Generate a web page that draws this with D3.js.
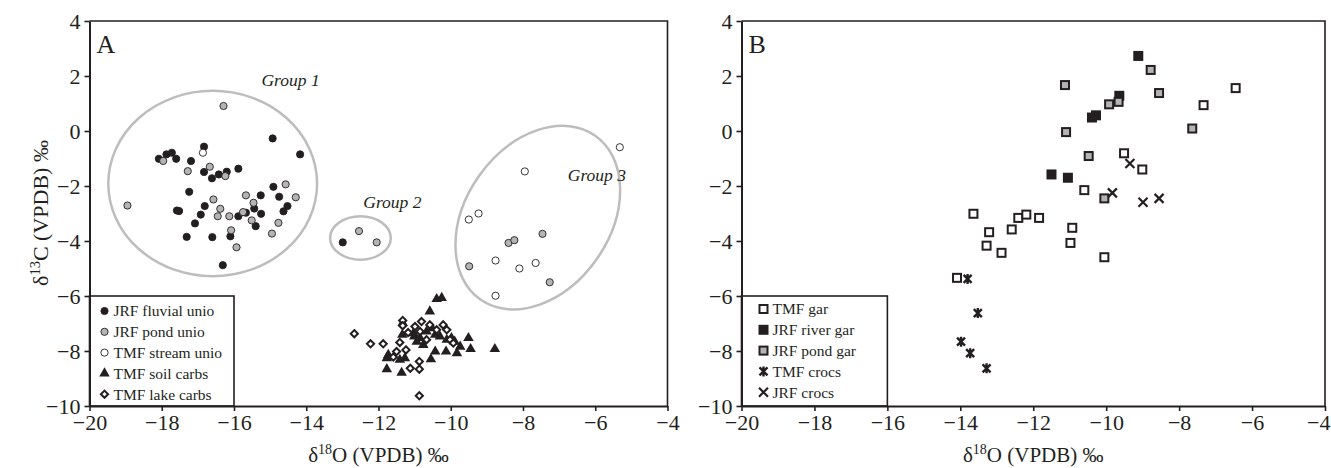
<!DOCTYPE html>
<html>
<head>
<meta charset="utf-8">
<script src="https://cdn.jsdelivr.net/npm/d3@7"></script>
<style>
  body { margin: 0; background: #fff; }
  svg { display: block; font-family: "Liberation Serif", "Times New Roman", serif; }
</style>
</head>
<body>
<svg id="fig" width="1331" height="468"></svg>
<script>
// ---- panel A : unionids and carbonates (d18O, d13C) ----
const jrfFluvialUnio = [[-18.08,-1.01],[-17.87,-0.85],[-17.72,-0.79],[-17.60,-1.01],[-17.19,-1.09],[-16.83,-0.57],
  [-16.83,-1.49],[-16.61,-1.72],[-16.42,-1.58],[-16.20,-1.48],[-15.88,-1.37],[-14.93,-0.27],[-14.17,-0.85],
  [-17.24,-2.21],[-17.58,-2.89],[-17.52,-2.91],[-16.81,-2.73],[-16.92,-3.04],[-17.08,-3.36],[-17.31,-3.85],
  [-16.60,-3.86],[-16.10,-3.83],[-15.88,-3.10],[-15.67,-2.97],[-15.44,-2.82],[-15.25,-3.01],[-15.40,-3.46],
  [-15.26,-2.34],[-14.91,-2.03],[-14.75,-2.39],[-14.52,-2.73],[-14.63,-2.92],[-16.31,-4.88],[-12.99,-4.05]];
const jrfPondUnio = [[-16.29,0.91],[-18.95,-2.71],[-17.96,-1.09],[-17.28,-1.46],[-16.67,-1.30],[-16.24,-1.64],
  [-14.57,-1.94],[-14.29,-2.41],[-14.77,-3.34],[-14.95,-3.73],[-15.67,-2.34],[-15.46,-2.61],[-16.57,-2.49],
  [-16.38,-2.83],[-16.45,-3.10],[-16.13,-3.10],[-15.75,-2.95],[-15.51,-3.25],[-16.08,-3.61],[-15.93,-4.23],
  [-12.54,-3.64],[-12.05,-4.05],[-8.40,-4.07],[-8.24,-3.97],[-7.46,-3.74],[-9.49,-4.92],[-7.26,-5.50]];
const tmfStreamUnio = [[-16.86,-0.79],[-9.50,-3.22],[-9.23,-3.00],[-8.76,-4.71],[-8.10,-5.00],[-7.65,-4.80],
  [-8.76,-5.99],[-7.95,-1.47],[-5.32,-0.59]];
const tmfSoilCarbs = [[-10.39,-6.11],[-10.25,-6.07],[-10.58,-6.56],[-11.33,-6.98],[-11.34,-7.41],[-11.01,-7.47],
  [-10.85,-7.53],[-10.67,-7.29],[-10.52,-7.17],[-10.43,-7.41],[-10.30,-7.47],[-10.11,-7.59],[-9.98,-7.53],
  [-9.89,-7.66],[-9.51,-7.53],[-9.74,-7.84],[-9.83,-8.08],[-9.45,-7.93],[-8.78,-7.93],[-10.13,-8.02],
  [-10.43,-8.02],[-10.55,-8.30],[-11.27,-8.26],[-11.41,-8.32],[-11.77,-8.26],[-11.77,-8.66],[-11.36,-8.79],
  [-11.73,-8.14],[-10.94,-7.66],[-10.76,-7.78],[-11.03,-7.35]];
const tmfLakeCarbs = [[-12.67,-7.37],[-12.22,-7.74],[-11.87,-7.74],[-11.33,-6.89],[-11.33,-7.08],[-11.41,-7.69],
  [-11.50,-8.02],[-11.24,-7.96],[-11.59,-8.22],[-11.12,-8.63],[-10.87,-8.38],[-10.87,-8.66],[-10.99,-7.11],
  [-10.81,-6.93],[-10.85,-7.29],[-10.58,-7.05],[-10.21,-7.05],[-10.11,-7.23],[-10.39,-7.23],[-10.67,-7.59],
  [-10.02,-7.59],[-10.87,-9.63],[-9.93,-7.71],[-11.18,-7.33]];

// ---- panel B : gar scales and crocodile teeth ----
const tmfGar = [[-10.60,-2.15],[-13.64,-3.01],[-12.41,-3.16],[-12.19,-3.04],[-11.84,-3.16],[-12.59,-3.58],
  [-13.21,-3.68],[-13.28,-4.17],[-12.87,-4.43],[-10.93,-3.52],[-10.98,-4.07],[-10.05,-4.59],[-14.09,-5.34],
  [-9.51,-0.81],[-9.01,-1.40],[-7.33,0.94],[-6.45,1.56]];
const jrfRiverGar = [[-9.12,2.73],[-9.64,1.28],[-10.28,0.57],[-10.39,0.49],[-11.50,-1.58],[-11.05,-1.70]];
const jrfPondGar = [[-11.13,1.67],[-9.66,1.06],[-9.92,0.97],[-11.10,-0.04],[-10.48,-0.91],[-10.05,-2.45],
  [-8.78,2.22],[-8.55,1.38],[-7.64,0.09]];
const tmfCrocs = [[-13.80,-5.38],[-13.52,-6.62],[-13.98,-7.66],[-13.73,-8.08],[-13.28,-8.63]];
const jrfCrocs = [[-9.35,-1.18],[-9.83,-2.25],[-8.99,-2.59],[-8.55,-2.45]];

const xTicks = [-20, -18, -16, -14, -12, -10, -8, -6, -4];
const yTicks = [-10, -8, -6, -4, -2, 0, 2, 4];

// group outlines in panel A (data units; rot in degrees)
const groups = [
  {name: "Group 1", cx: -16.59, cy: -1.91, rx: 2.89, ry: 3.37, rot: 0, tx: -15.24, ty: 1.64},
  {name: "Group 2", cx: -12.50, cy: -3.89, rx: 0.84, ry: 0.79, rot: 0, tx: -12.42, ty: -2.79},
  {name: "Group 3", cx: -7.59, cy: -3.15, rx: 2.77, ry: 2.62, rot: -55, tx: -6.76, ty: -1.80}
];

const ink = "#231f20";
const svg = d3.select("#fig");

function drawMarker(g, type) {
  if (type === "fluvial" || type === "pond" || type === "stream") {
    g.append("circle").attr("r", 3.6)
      .attr("fill", type === "fluvial" ? ink : type === "pond" ? "#b4b4b4" : "#fff")
      .attr("stroke", ink).attr("stroke-width", 0.9);
  } else if (type === "soil") {
    g.append("path").attr("d", d3.symbol(d3.symbolTriangle, 48)()).attr("fill", ink);
  } else if (type === "lake") {
    g.append("path").attr("d", "M0,-3.6L3.6,0L0,3.6L-3.6,0Z")
      .attr("fill", "#fff").attr("stroke", ink).attr("stroke-width", 2);
  } else if (type === "tgar") {
    g.append("rect").attr("x", -4).attr("y", -4).attr("width", 8).attr("height", 8)
      .attr("fill", "#fff").attr("stroke", ink).attr("stroke-width", 2);
  } else if (type === "rgar") {
    g.append("rect").attr("x", -5).attr("y", -5).attr("width", 10).attr("height", 10).attr("fill", ink);
  } else if (type === "pgar") {
    g.append("rect").attr("x", -4).attr("y", -4).attr("width", 8).attr("height", 8)
      .attr("fill", "#b4b4b4").attr("stroke", ink).attr("stroke-width", 2);
  } else if (type === "tcroc") {
    g.append("path").attr("d", "M0,-5V5M-4,-4L4,4M-4,4L4,-4")
      .attr("stroke", ink).attr("stroke-width", 2.4).attr("fill", "none");
  } else if (type === "jcroc") {
    g.append("path").attr("d", "M-4.5,-4.5L4.5,4.5M-4.5,4.5L4.5,-4.5")
      .attr("stroke", ink).attr("stroke-width", 2.2).attr("fill", "none");
  }
}

function panel(opt) {
  const x = d3.scaleLinear().domain([-20, -4]).range([opt.left, opt.right]);
  const y = d3.scaleLinear().domain([-10, 4]).range([406, 21]);
  const g = svg.append("g");

  // frame (top + right)
  g.append("path")
    .attr("d", `M${x(-20)},${y(4)}H${x(-4)}V${y(-10)}`)
    .attr("fill", "none").attr("stroke", ink).attr("stroke-width", 1.6);

  // legend box, sits in the lower left corner of the plot
  const lg = g.append("g");
  lg.append("rect")
    .attr("x", x(-20)).attr("y", y(-6))
    .attr("width", x(-16) - x(-20)).attr("height", y(-10) - y(-6))
    .attr("fill", "#fff").attr("stroke", ink).attr("stroke-width", 1.6);
  opt.legend.forEach((d, i) => {
    const row = lg.append("g")
      .attr("transform", `translate(${x(-20) + opt.legendDx},${y(-6) + opt.legendDy + i * 20.8})`);
    drawMarker(row.append("g"), d.type);
    row.append("text").attr("x", 9).attr("dy", "0.35em")
      .attr("font-size", 15.5).attr("fill", ink).text(d.label);
  });

  if (opt.groups) {
    opt.groups.forEach(d => {
      g.append("ellipse")
        .attr("transform", `translate(${x(d.cx)},${y(d.cy)}) rotate(${d.rot})`)
        .attr("rx", x(d.cx + d.rx) - x(d.cx)).attr("ry", y(d.cy) - y(d.cy + d.ry))
        .attr("fill", "none").attr("stroke", "#bdbdbd").attr("stroke-width", 2.5);
      g.append("text").attr("x", x(d.tx)).attr("y", y(d.ty))
        .attr("font-size", 17.5).attr("font-style", "italic").attr("fill", ink).text(d.name);
    });
  }

  opt.series.forEach(s => {
    g.append("g").selectAll("g")
      .data(s.data).join("g")
      .attr("transform", d => `translate(${x(d[0])},${y(d[1])})`)
      .each(function() { drawMarker(d3.select(this), s.type); });
  });

  // axes
  const xa = g.append("g").attr("transform", `translate(0,${y(-10)})`)
    .call(d3.axisBottom(x).tickValues(xTicks).tickSize(5).tickSizeOuter(0).tickPadding(3));
  const ya = g.append("g").attr("transform", `translate(${x(-20)},0)`)
    .call(d3.axisLeft(y).tickValues(yTicks).tickSize(5).tickSizeOuter(0).tickPadding(4));
  [xa, ya].forEach(a => {
    a.attr("font-family", null).attr("font-size", 22);
    a.select(".domain").attr("stroke", ink).attr("stroke-width", 2);
    a.selectAll(".tick line").attr("stroke", ink).attr("stroke-width", 1.6);
    a.selectAll(".tick text").attr("fill", ink);
  });
  // keep the last x label inside the page
  if (opt.clipLast) {
    xa.selectAll(".tick text").filter(d => d === -4)
      .attr("text-anchor", "end").attr("x", 1330 - x(-4));
  }

  // panel letter
  g.append("text").attr("x", x(-20) + 7).attr("y", y(4) + 32)
    .attr("font-size", 26).attr("fill", ink).text(opt.letter);

  // x title
  const xt = g.append("text").attr("x", (x(-20) + x(-4)) / 2).attr("y", 462)
    .attr("text-anchor", "middle").attr("font-size", 21).attr("fill", ink);
  xt.append("tspan").text("δ");
  xt.append("tspan").attr("font-size", 14).attr("dy", -8).text("18");
  xt.append("tspan").attr("dy", 8).text("O (VPDB) ‰");
}

panel({
  left: 89.5, right: 667.5, letter: "A", legendDx: 15, legendDy: 15, groups: groups,
  legend: [
    {type: "fluvial", label: "JRF fluvial unio"},
    {type: "pond", label: "JRF pond unio"},
    {type: "stream", label: "TMF stream unio"},
    {type: "soil", label: "TMF soil carbs"},
    {type: "lake", label: "TMF lake carbs"}
  ],
  series: [
    {type: "fluvial", data: jrfFluvialUnio},
    {type: "pond", data: jrfPondUnio},
    {type: "stream", data: tmfStreamUnio},
    {type: "soil", data: tmfSoilCarbs},
    {type: "lake", data: tmfLakeCarbs}
  ]
});

panel({
  left: 741.5, right: 1325, letter: "B", legendDx: 22, legendDy: 13, clipLast: true,
  legend: [
    {type: "tgar", label: "TMF gar"},
    {type: "rgar", label: "JRF river gar"},
    {type: "pgar", label: "JRF pond gar"},
    {type: "tcroc", label: "TMF crocs"},
    {type: "jcroc", label: "JRF crocs"}
  ],
  series: [
    {type: "tgar", data: tmfGar},
    {type: "rgar", data: jrfRiverGar},
    {type: "pgar", data: jrfPondGar},
    {type: "tcroc", data: tmfCrocs},
    {type: "jcroc", data: jrfCrocs}
  ]
});

// y title (panel A only)
const yt = svg.append("text").attr("transform", "translate(48,213) rotate(-90)")
  .attr("text-anchor", "middle").attr("font-size", 22).attr("fill", ink);
yt.append("tspan").text("δ");
yt.append("tspan").attr("font-size", 14.5).attr("dy", -8).text("13");
yt.append("tspan").attr("dy", 8).text("C (VPDB) ‰");
</script>
</body>
</html>
